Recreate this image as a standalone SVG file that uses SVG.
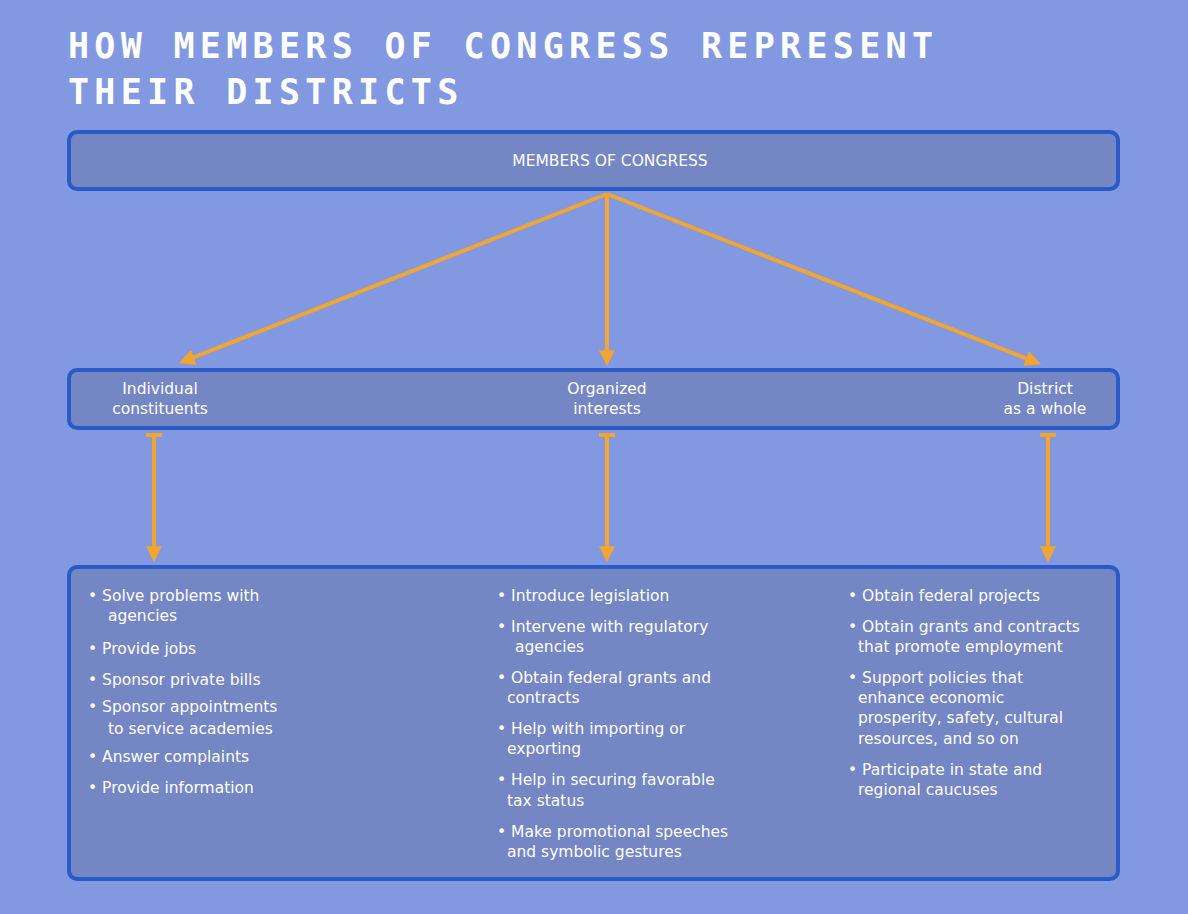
<svg xmlns="http://www.w3.org/2000/svg" width="1188" height="914" viewBox="0 0 1188 914">
<style>
.box{fill:#7486C4;stroke:#2A5AC8;stroke-width:4}
.t{font-family:"DejaVu Sans","Liberation Sans",sans-serif;font-size:15.5px;fill:#fff}
.title{font-family:"DejaVu Sans Mono",monospace;font-weight:bold;font-size:35px;fill:#fff;letter-spacing:5.3px}
.c{stroke:#F2A530;stroke-width:4;fill:none}
</style>
<defs>
<marker id="ah" viewBox="0 0 10 10" refX="8" refY="5" markerWidth="4" markerHeight="4" orient="auto"><path d="M0,0L10,5L0,10z" fill="#F2A530"/></marker>
</defs>
<rect width="1188" height="914" fill="#8299E2"/>
<text class="title" x="68" y="58">HOW MEMBERS OF CONGRESS REPRESENT</text>
<text class="title" x="68" y="104">THEIR DISTRICTS</text>
<g id="top"><rect class="box" x="69" y="132" width="1049" height="57" rx="8"/>
<text class="t" x="610" y="166" text-anchor="middle" font-size="14">MEMBERS OF CONGRESS</text></g>
<g id="mid"><rect class="box" x="69" y="370" width="1049" height="58" rx="8"/>
<text class="t" x="160" y="394" text-anchor="middle">Individual</text><text class="t" x="160" y="414" text-anchor="middle">constituents</text>
<text class="t" x="607" y="394" text-anchor="middle">Organized</text><text class="t" x="607" y="414" text-anchor="middle">interests</text>
<text class="t" x="1045" y="394" text-anchor="middle">District</text><text class="t" x="1045" y="414" text-anchor="middle">as a whole</text></g>
<g id="bottom"><rect class="box" x="69" y="567" width="1049" height="312" rx="8"/>
<g class="t">
<text x="88" y="601">• Solve problems with</text><text x="108" y="621">agencies</text>
<text x="88" y="654">• Provide jobs</text>
<text x="88" y="685">• Sponsor private bills</text>
<text x="88" y="712">• Sponsor appointments</text><text x="108" y="734">to service academies</text>
<text x="88" y="762">• Answer complaints</text>
<text x="88" y="793">• Provide information</text>
<text x="497" y="601">• Introduce legislation</text>
<text x="497" y="632">• Intervene with regulatory</text><text x="515" y="652">agencies</text>
<text x="497" y="683">• Obtain federal grants and</text><text x="507" y="703">contracts</text>
<text x="497" y="734">• Help with importing or</text><text x="507" y="754">exporting</text>
<text x="497" y="785">• Help in securing favorable</text><text x="507" y="806">tax status</text>
<text x="497" y="837">• Make promotional speeches</text><text x="507" y="857">and symbolic gestures</text>
<text x="848" y="601">• Obtain federal projects</text>
<text x="848" y="632">• Obtain grants and contracts</text><text x="858" y="652">that promote employment</text>
<text x="848" y="683">• Support policies that</text><text x="858" y="703">enhance economic</text><text x="858" y="723">prosperity, safety, cultural</text><text x="858" y="744">resources, and so on</text>
<text x="848" y="775">• Participate in state and</text><text x="858" y="795">regional caucuses</text>
</g></g>
<g id="connectors" class="c">
<line x1="607" y1="194" x2="182" y2="362" marker-end="url(#ah)"/>
<line x1="607" y1="194" x2="607" y2="363" marker-end="url(#ah)"/>
<line x1="607" y1="194" x2="1038" y2="363" marker-end="url(#ah)"/>
<line x1="154" y1="435" x2="154" y2="559" marker-end="url(#ah)"/><line x1="146" y1="435" x2="162" y2="435"/>
<line x1="607" y1="435" x2="607" y2="559" marker-end="url(#ah)"/><line x1="599" y1="435" x2="615" y2="435"/>
<line x1="1048" y1="435" x2="1048" y2="559" marker-end="url(#ah)"/><line x1="1040" y1="435" x2="1056" y2="435"/>
</g>
</svg>
